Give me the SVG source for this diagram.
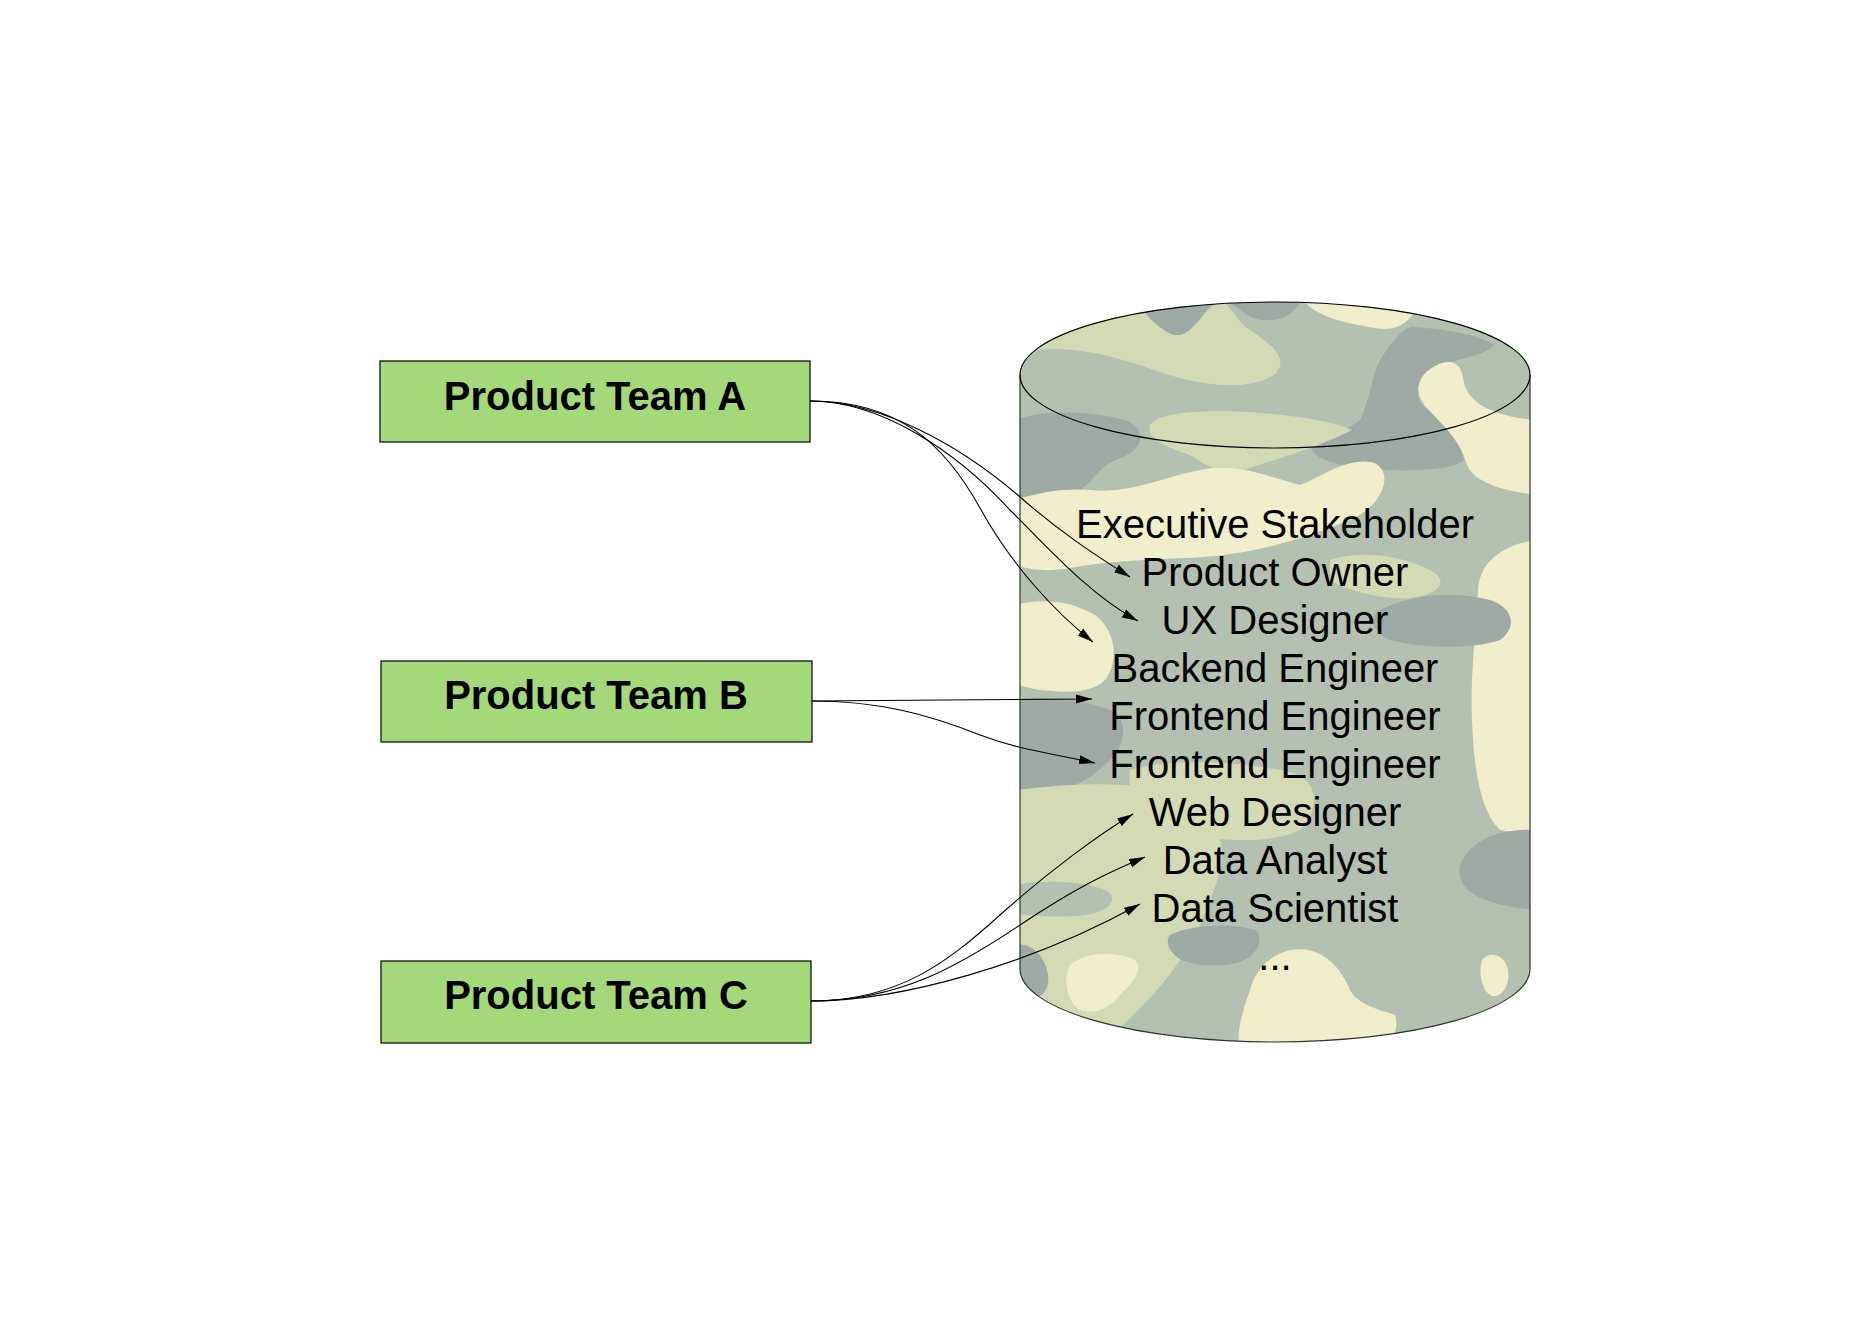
<svg xmlns="http://www.w3.org/2000/svg" width="1869" height="1323" viewBox="0 0 1869 1323">
<style>
.box{fill:#A4D97A;stroke:#000;stroke-width:1.2}
.lbl{font-family:"Liberation Sans",Arial,sans-serif;font-weight:bold;font-size:40px;fill:#000;text-anchor:middle}
.item{font-family:"Liberation Sans",Arial,sans-serif;font-size:40px;fill:#000;text-anchor:middle}
.edge{fill:none;stroke:#000;stroke-width:1.1}
.cr{fill:#F1EFCB}.pg{fill:#D4DBB4}.dk{fill:#9EAAA3}.gr{fill:#B5C1B0}
</style>
<defs>
<marker id="ah" viewBox="0 0 16 10" refX="16" refY="5" markerWidth="16" markerHeight="10" orient="auto" markerUnits="userSpaceOnUse">
<path d="M0,0.5 L16,5 L0,9.5 Z" fill="#000"/>
</marker>
<clipPath id="cyl">
<path d="M1020,375 A255,73 0 0 1 1530,375 L1530,969 A255,73 0 0 1 1020,969 Z"/>
</clipPath>
</defs>
<rect width="1869" height="1323" fill="#fff"/>

<g id="store">
<g clip-path="url(#cyl)">
<rect x="1010" y="290" width="530" height="770" class="gr"/>
<path class="pg" d="M1010,355 C1050,342 1100,350 1160,372 C1200,386 1250,392 1275,374 C1292,358 1265,340 1250,330 C1235,320 1232,305 1215,296 L1010,296 Z"/>
<path class="dk" d="M1130,295 C1150,320 1170,342 1185,333 C1200,325 1205,306 1220,302 C1236,300 1242,318 1262,320 C1286,322 1295,312 1305,295 Z"/>
<path class="cr" d="M1300,295 C1310,316 1345,323 1375,328 C1398,332 1412,322 1420,300 Z"/>
<path class="dk" d="M1411,327 C1440,328 1480,335 1495,345 C1480,358 1450,360 1432,368 C1418,378 1414,392 1422,405 C1440,420 1458,432 1464,460 C1450,472 1400,472 1360,468 C1330,465 1308,455 1312,445 C1318,435 1350,430 1360,420 C1370,400 1372,375 1380,360 C1390,345 1400,330 1411,327 Z"/>
<path class="cr" d="M1429,370 C1442,360 1460,356 1463,378 C1466,398 1482,415 1535,420 L1535,495 C1500,490 1472,482 1466,462 C1460,440 1440,422 1425,406 C1414,392 1418,378 1429,370 Z"/>
<path class="pg" d="M1150,425 C1160,412 1200,410 1250,412 C1290,415 1330,420 1352,430 C1330,442 1290,455 1250,468 C1225,478 1205,465 1190,455 C1170,448 1145,440 1150,425 Z"/>
<path class="dk" d="M1015,420 C1040,410 1090,410 1125,420 C1147,428 1145,450 1120,458 C1100,465 1095,480 1080,490 C1060,500 1040,505 1015,512 Z"/>
<path class="cr" d="M1015,500 C1040,492 1065,488 1090,490 C1130,494 1160,478 1200,470 C1240,462 1270,478 1300,485 C1325,475 1345,458 1372,462 C1395,470 1385,505 1350,520 C1300,540 1250,556 1185,558 C1140,560 1100,562 1070,568 C1048,572 1030,570 1015,565 Z"/>
<path class="cr" d="M1535,540 C1505,545 1480,560 1478,590 C1476,630 1470,680 1472,720 C1474,770 1480,810 1500,830 L1535,835 Z"/>
<path class="dk" d="M1535,830 C1500,828 1470,840 1460,865 C1455,890 1480,905 1535,910 Z"/>
<path class="dk" d="M1380,610 C1410,595 1450,590 1490,600 C1510,606 1520,625 1500,640 C1470,650 1420,648 1390,640 C1372,632 1368,618 1380,610 Z"/>
<path class="pg" d="M1330,560 C1360,550 1400,555 1430,570 C1450,580 1440,595 1410,598 C1380,600 1345,590 1330,580 Z"/>
<path class="cr" d="M1015,605 C1040,598 1070,600 1095,615 C1115,630 1120,660 1105,680 C1090,695 1060,692 1040,690 C1028,688 1018,685 1015,683 Z"/>
<path class="dk" d="M1015,700 C1040,695 1080,698 1110,710 C1130,720 1125,745 1110,760 C1095,775 1080,785 1060,790 C1040,795 1025,793 1015,790 Z"/>
<path class="pg" d="M1130,770 C1170,758 1230,760 1290,772 C1320,780 1320,810 1300,830 C1270,845 1220,840 1180,835 C1150,830 1125,800 1130,770 Z"/>
<path class="pg" d="M1015,790 C1060,785 1110,780 1160,790 C1200,800 1230,830 1220,870 C1212,900 1200,930 1180,960 C1160,990 1130,1020 1100,1045 L1015,1045 Z"/>
<path class="gr" d="M1015,885 C1040,880 1080,880 1105,890 C1120,898 1110,912 1085,915 C1060,918 1035,916 1015,914 Z"/>
<path class="dk" d="M1015,945 C1030,942 1045,955 1048,975 C1050,992 1040,1002 1015,1002 Z"/>
<path class="cr" d="M1070,965 C1085,952 1115,950 1135,960 C1145,970 1130,985 1120,995 C1110,1008 1095,1015 1080,1010 C1068,1003 1062,980 1070,965 Z"/>
<path class="dk" d="M1170,935 C1190,925 1230,922 1255,930 C1265,938 1258,955 1240,962 C1220,968 1190,966 1178,958 C1168,950 1165,940 1170,935 Z"/>
<path class="cr" d="M1250,990 C1255,970 1270,955 1290,950 C1320,945 1340,965 1350,990 C1358,1005 1380,1010 1395,1015 C1400,1030 1390,1045 1380,1050 L1240,1050 C1235,1030 1245,1005 1250,990 Z"/>
<path class="cr" d="M1482,960 C1490,950 1505,955 1508,970 C1510,985 1502,998 1492,996 C1482,992 1478,972 1482,960 Z"/>
</g>
<path d="M1020,375 L1020,969 A255,73 0 0 0 1530,969 L1530,375" fill="none" stroke="#333" stroke-width="1.2"/>
<ellipse cx="1275" cy="375" rx="255" ry="73" fill="none" stroke="#000" stroke-width="1.2"/>
<text class="item" x="1275" y="538">Executive Stakeholder</text>
<text class="item" x="1275" y="586">Product Owner</text>
<text class="item" x="1275" y="634">UX Designer</text>
<text class="item" x="1275" y="682">Backend Engineer</text>
<text class="item" x="1275" y="730">Frontend Engineer</text>
<text class="item" x="1275" y="778">Frontend Engineer</text>
<text class="item" x="1275" y="826">Web Designer</text>
<text class="item" x="1275" y="874">Data Analyst</text>
<text class="item" x="1275" y="922">Data Scientist</text>
<text class="item" x="1275" y="970">...</text>
</g>

<g id="teamA">
<rect class="box" x="380" y="361" width="430" height="81"/>
<text class="lbl" x="595" y="410">Product Team A</text>
</g>
<g id="teamB">
<rect class="box" x="381" y="661" width="431" height="81"/>
<text class="lbl" x="596" y="709">Product Team B</text>
</g>
<g id="teamC">
<rect class="box" x="381" y="961" width="430" height="82"/>
<text class="lbl" x="596" y="1009">Product Team C</text>
</g>

<g id="connectors">
<path class="edge" marker-end="url(#ah)" d="M810,401 C880,401 960,445 1020,497 C1060,532 1095,555 1130,577"/>
<path class="edge" marker-end="url(#ah)" d="M810,401 C880,401 955,450 1010,510 C1050,550 1090,595 1138,621"/>
<path class="edge" marker-end="url(#ah)" d="M810,401 C900,401 945,445 980,508 C1012,566 1055,612 1093,642"/>
<path class="edge" marker-end="url(#ah)" d="M812,701 C900,701 1000,699 1092,699"/>
<path class="edge" marker-end="url(#ah)" d="M812,701 C880,701 930,715 980,735 C1020,750 1045,752 1095,763"/>
<path class="edge" marker-end="url(#ah)" d="M811,1001 C900,1001 950,960 1000,915 C1050,870 1100,834 1133,814"/>
<path class="edge" marker-end="url(#ah)" d="M811,1001 C900,1001 960,965 1020,925 C1080,885 1112,871 1145,857"/>
<path class="edge" marker-end="url(#ah)" d="M811,1001 C900,1001 1030,965 1140,904"/>
</g>
</svg>
